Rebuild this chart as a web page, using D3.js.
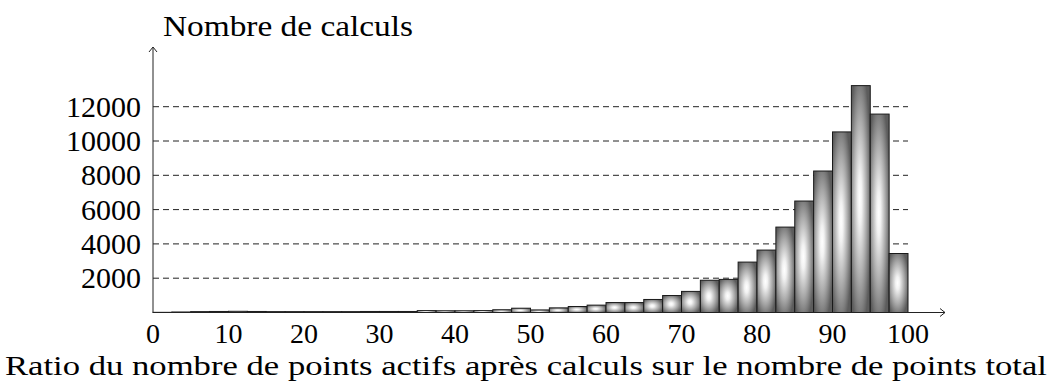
<!DOCTYPE html>
<html>
<head>
<meta charset="utf-8">
<script src="https://cdn.jsdelivr.net/npm/d3@7"></script>
<style>
  html, body { margin: 0; padding: 0; background: #fff; }
  svg { display: block; }
  text { font-family: "Liberation Serif", "Times New Roman", "DejaVu Serif", serif; fill: #000; }
</style>
</head>
<body>
<svg id="chart" width="1052" height="383"></svg>
<script>
// Histogram bins (lower edge, in percent) and the count of runs in each bin
const binStarts = [0, 2.5, 5, 7.5, 10, 12.5, 15, 17.5, 20, 22.5,
                   25, 27.5, 30, 32.5, 35, 37.5, 40, 42.5, 45, 47.5,
                   50, 52.5, 55, 57.5, 60, 62.5, 65, 67.5, 70, 72.5,
                   75, 77.5, 80, 82.5, 85, 87.5, 90, 92.5, 95, 97.5];
const binWidth = 2.5;
const counts = [10, 30, 50, 60, 70, 60, 50, 50, 50, 50,
                50, 60, 60, 60, 110, 100, 100, 110, 160, 250,
                150, 270, 350, 430, 580, 580, 760, 990, 1230, 1880,
                1930, 2940, 3640, 4980, 6500, 8250, 10530, 13230, 11570, 3440];
const xTicks = [0, 10, 20, 30, 40, 50, 60, 70, 80, 90, 100];
const yTicks = [2000, 4000, 6000, 8000, 10000, 12000];
const xTitle = "Ratio du nombre de points actifs après calculs sur le nombre de points total";
const yTitle = "Nombre de calculs";

const svg = d3.select("#chart");

const x = d3.scaleLinear().domain([0, 100]).range([153, 908]);
const y = d3.scaleLinear().domain([0, 12000]).range([312.5, 106.7]);

const x0 = x(0), y0 = y(0);
const xAxisEnd = 945, yAxisTop = 47;

// Shaded fill for the bars: bright core, darker rim
const defs = svg.append("defs");
const grad = defs.append("radialGradient")
  .attr("id", "barShade")
  .attr("cx", 0.45).attr("cy", 0.5).attr("r", 0.6)
  .attr("fx", 0.45).attr("fy", 0.5);
grad.append("stop").attr("offset", 0).attr("stop-color", "#ffffff");
grad.append("stop").attr("offset", 0.18).attr("stop-color", "#f2f2f2");
grad.append("stop").attr("offset", 0.6).attr("stop-color", "#a8a8a8");
grad.append("stop").attr("offset", 1).attr("stop-color", "#5c5c5c");

// Dashed horizontal guides at the labelled counts
svg.append("g").selectAll("line")
  .data(yTicks)
  .join("line")
  .attr("x1", x0).attr("x2", x(100))
  .attr("y1", d => y(d)).attr("y2", d => y(d))
  .attr("stroke", "#222")
  .attr("stroke-width", 1)
  .attr("stroke-dasharray", "6,4");

// Bars
svg.append("g").selectAll("rect")
  .data(counts)
  .join("rect")
  .attr("x", (d, i) => x(binStarts[i]))
  .attr("width", (d, i) => x(binStarts[i] + binWidth) - x(binStarts[i]))
  .attr("y", d => y(d))
  .attr("height", d => y0 - y(d))
  .attr("fill", "url(#barShade)")
  .attr("stroke", "#1a1a1a")
  .attr("stroke-width", 1);

// Axes with open arrow heads
const axes = svg.append("g").attr("stroke", "#222").attr("stroke-width", 1).attr("fill", "none");
axes.append("line").attr("x1", x0).attr("y1", y0).attr("x2", xAxisEnd).attr("y2", y0);
axes.append("line").attr("x1", x0).attr("y1", y0).attr("x2", x0).attr("y2", yAxisTop);
axes.append("path").attr("d", `M${xAxisEnd - 5},${y0 - 4} L${xAxisEnd},${y0} L${xAxisEnd - 5},${y0 + 4}`);
axes.append("path").attr("d", `M${x0 - 4},${yAxisTop + 5} L${x0},${yAxisTop} L${x0 + 4},${yAxisTop + 5}`);

// Tick labels
svg.append("g").selectAll("text")
  .data(xTicks)
  .join("text")
  .attr("x", d => x(d))
  .attr("y", 343)
  .attr("text-anchor", "middle")
  .attr("font-size", 28)
  .text(d => d);

svg.append("g").selectAll("text")
  .data(yTicks)
  .join("text")
  .attr("x", 141)
  .attr("y", d => y(d) + 10)
  .attr("text-anchor", "end")
  .attr("font-size", 30)
  .text(d => d);

// Axis titles
svg.append("text")
  .attr("x", 163).attr("y", 36)
  .attr("font-size", 30)
  .attr("textLength", 250)
  .attr("lengthAdjust", "spacingAndGlyphs")
  .text(yTitle);

svg.append("text")
  .attr("x", 5).attr("y", 375)
  .attr("font-size", 28)
  .attr("textLength", 1042)
  .attr("lengthAdjust", "spacingAndGlyphs")
  .text(xTitle);
</script>
</body>
</html>
